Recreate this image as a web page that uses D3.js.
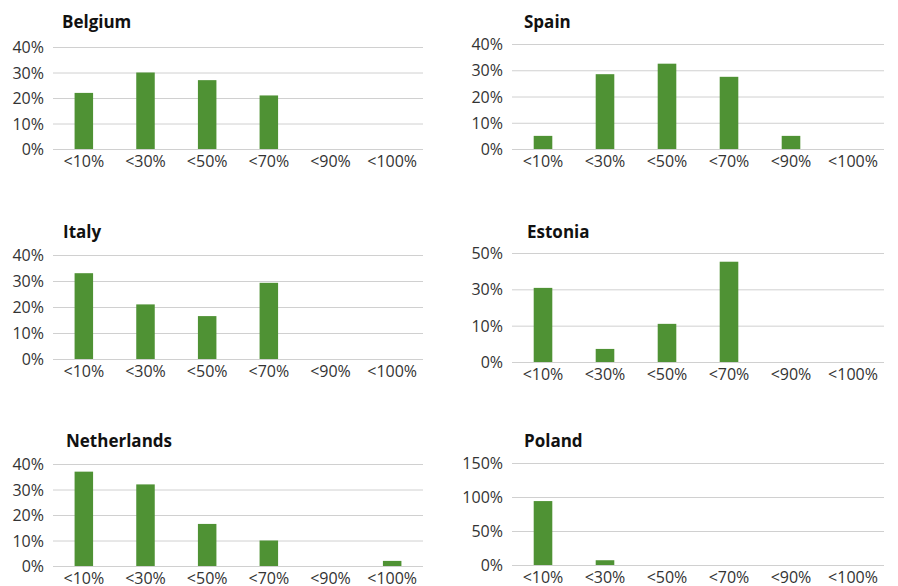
<!DOCTYPE html>
<html>
<head>
<meta charset="utf-8">
<script src="https://cdn.jsdelivr.net/npm/d3@7"></script>
<style>
	body { margin: 0; background: #fff; }
	svg { display: block; }
	.title { font-family: "Open Sans", "Liberation Sans", sans-serif; font-weight: 700; font-size: 17px; fill: #111; }
	.tick text { font-family: "Open Sans", "Lato", sans-serif; font-size: 16px; fill: #333; }
</style>
</head>
<body>
<div id="graphic"></div>
<script>
// categories shared by every panel
const categories = ['<10%', '<30%', '<50%', '<70%', '<90%', '<100%'];

// share of respondents per band, one array per country
const belgium = [0.22, 0.30, 0.27, 0.21, 0, 0];
const spain = [0.05, 0.285, 0.325, 0.275, 0.05, 0];
const italy = [0.33, 0.21, 0.165, 0.293, 0, 0];
const estonia = [0.34, 0.06, 0.175, 0.46, 0, 0];
const netherlands = [0.37, 0.32, 0.165, 0.10, 0, 0.02];
const poland = [0.94, 0.07, 0, 0, 0, 0];

// y-axis domains and the tick labels printed on them
const belgiumTicks = [0, 0.1, 0.2, 0.3, 0.4];
const spainTicks = [0, 0.1, 0.2, 0.3, 0.4];
const italyTicks = [0, 0.1, 0.2, 0.3, 0.4];
const estoniaTicks = [0, 1 / 6, 2 / 6, 0.5];
const estoniaTickLabels = ['0%', '10%', '30%', '50%'];
const netherlandsTicks = [0, 0.1, 0.2, 0.3, 0.4];
const polandTicks = [0, 0.5, 1, 1.5];

const panels = [
	{ name: 'Belgium', values: belgium, ticks: belgiumTicks },
	{ name: 'Spain', values: spain, ticks: spainTicks },
	{ name: 'Italy', values: italy, ticks: italyTicks },
	{ name: 'Estonia', values: estonia, ticks: estoniaTicks, labels: estoniaTickLabels },
	{ name: 'Netherlands', values: netherlands, ticks: netherlandsTicks },
	{ name: 'Poland', values: poland, ticks: polandTicks }
];

// layout of each panel (position on page, plot box, title spot)
const layout = [
	{ ox: 0, oy: 0, left: 53, right: 423, top: 47, bottom: 149, tx: 62, ty: 28 },
	{ ox: 449, oy: 0, left: 63, right: 435, top: 44, bottom: 149, tx: 75, ty: 28 },
	{ ox: 0, oy: 210, left: 53, right: 423, top: 45, bottom: 149, tx: 63, ty: 28 },
	{ ox: 449, oy: 210, left: 63, right: 435, top: 43, bottom: 152, tx: 78, ty: 28 },
	{ ox: 0, oy: 420, left: 53, right: 423, top: 44, bottom: 146, tx: 66, ty: 27 },
	{ ox: 449, oy: 420, left: 63, right: 435, top: 43, bottom: 145, tx: 75, ty: 27 }
];

const width = 898, height = 586;
const barColour = '#4f9234';

const svg = d3.select('#graphic')
	.append('svg')
	.attr('width', width)
	.attr('height', height);

panels.forEach((p, i) => {
	const L = layout[i];
	const g = svg.append('g').attr('transform', `translate(${L.ox},${L.oy})`);

	const x = d3.scaleBand()
		.domain(categories)
		.range([L.left, L.right])
		.paddingInner(0)
		.paddingOuter(0);

	const y = d3.scaleLinear()
		.domain([0, d3.max(p.ticks)])
		.range([L.bottom, L.top]);

	const fmt = p.labels
		? (d, j) => p.labels[j]
		: d3.format('.0%');

	//gridlines + y labels
	const yAxis = g.append('g')
		.attr('class', 'y axis')
		.attr('transform', `translate(${L.left},0)`)
		.call(d3.axisLeft(y)
			.tickValues(p.ticks)
			.tickSize(-(L.right - L.left))
			.tickPadding(9)
			.tickFormat(fmt));
	yAxis.select('.domain').remove();
	yAxis.selectAll('line').attr('stroke', '#d0d0d0').attr('stroke-width', 1);
	yAxis.selectAll('text').attr('dy', '0.35em');

	//x labels
	const xAxis = g.append('g')
		.attr('class', 'x axis')
		.attr('transform', `translate(0,${L.bottom})`)
		.call(d3.axisBottom(x).tickSize(0).tickPadding(7));
	xAxis.select('.domain').remove();

	//bars
	const bw = x.bandwidth() * 0.3;
	g.append('g')
		.selectAll('rect')
		.data(categories.map((c, j) => ({ cat: c, value: p.values[j] })).filter(d => d.value > 0))
		.join('rect')
		.attr('x', d => x(d.cat) + (x.bandwidth() - bw) / 2)
		.attr('y', d => y(d.value))
		.attr('width', bw)
		.attr('height', d => y(0) - y(d.value))
		.attr('fill', barColour);

	g.append('text')
		.attr('class', 'title')
		.attr('x', L.tx)
		.attr('y', L.ty)
		.text(p.name);
});
</script>
</body>
</html>
